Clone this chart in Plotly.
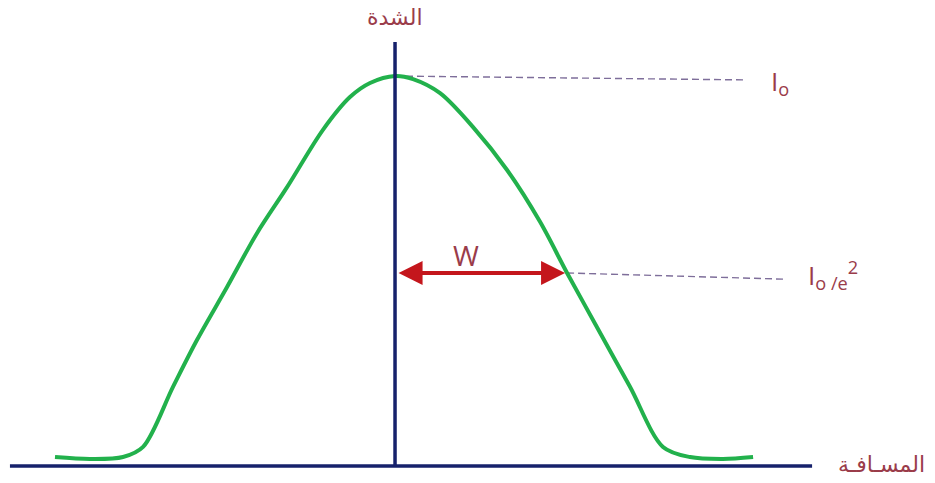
import plotly.graph_objects as go

# Beam intensity profile (distance in units of W, intensity in units of I0)
distance = [-2.0, -1.794, -1.6, -1.482, -1.306, -1.165, -0.988, -0.812, -0.635, -0.424, -0.265, -0.147,
            0.0, 0.106, 0.265, 0.459, 0.659, 0.853, 1.012, 1.188, 1.382, 1.576, 1.735, 1.929, 2.106]
intensity = [0.023, 0.018, 0.023, 0.049, 0.203, 0.323, 0.459, 0.597, 0.715, 0.862, 0.946, 0.982,
             1.0, 0.992, 0.956, 0.869, 0.759, 0.626, 0.495, 0.356, 0.203, 0.049, 0.023, 0.018, 0.023]

# Reference levels: peak intensity and the level where the width W is measured
peak_guide_x = [0.0, 2.06]
peak_guide_y = [1.0, 0.99]
width_level = 0.495
width_half = 1.0
width_guide_x = [1.012, 2.294]
width_guide_y = [0.495, 0.479]

# Axis extents
h_axis_x = [-2.265, 2.453]
h_axis_y = [0.0, 0.0]
v_axis_x = [0.0, 0.0]
v_axis_y = [0.0, 1.087]

label_color = "#9a3c4a"
navy = "#16216b"
guide_color = "#7e6e9a"

fig = go.Figure()

fig.add_trace(go.Scatter(x=peak_guide_x, y=peak_guide_y, mode="lines",
                         line=dict(color=guide_color, width=1.4, dash="7px,4px"), hoverinfo="skip"))
fig.add_trace(go.Scatter(x=width_guide_x, y=width_guide_y, mode="lines",
                         line=dict(color=guide_color, width=1.4, dash="7px,4px"), hoverinfo="skip"))

fig.add_trace(go.Scatter(x=distance, y=intensity, mode="lines",
                         line=dict(color="#22b14c", width=4, shape="spline", smoothing=0.9),
                         hoverinfo="skip"))

fig.add_trace(go.Scatter(x=h_axis_x, y=h_axis_y, mode="lines",
                         line=dict(color=navy, width=3.5), hoverinfo="skip"))
fig.add_trace(go.Scatter(x=v_axis_x, y=v_axis_y, mode="lines",
                         line=dict(color=navy, width=3.5), hoverinfo="skip"))

# Double-headed arrow for W
fig.add_annotation(x=width_half, y=width_level, ax=0.012, ay=width_level,
                   xref="x", yref="y", axref="x", ayref="y", text="",
                   showarrow=True, arrowhead=2, arrowside="end+start",
                   arrowsize=1.2, arrowwidth=4, arrowcolor="#c4161c", standoff=0, startstandoff=0)

latin = "Open Sans, Liberation Sans, sans-serif"
arabic = "DejaVu Sans, Noto Sans, sans-serif"

fig.add_annotation(x=0.418, y=0.54, xref="x", yref="y", text="W", showarrow=False,
                   font=dict(family=latin, size=28, color=label_color))
fig.add_annotation(x=2.2, y=0.985, xref="x", yref="y", text="I<sub>o</sub>", showarrow=False,
                   xanchor="left", font=dict(family=latin, size=26, color=label_color))
fig.add_annotation(x=2.42, y=0.49, xref="x", yref="y",
                   text="I<sub>o /e</sub><sup>2</sup>", showarrow=False,
                   xanchor="left", font=dict(family=latin, size=26, color=label_color))
fig.add_annotation(x=0.0, y=1.151, xref="x", yref="y", text="الشدة", showarrow=False,
                   font=dict(family=arabic, size=22, color=label_color))
fig.add_annotation(x=2.86, y=0.004, xref="x", yref="y", text="المسـافـة", showarrow=False,
                   font=dict(family=arabic, size=22, color=label_color))

fig.update_layout(
    width=935, height=483,
    margin=dict(l=0, r=0, t=0, b=0),
    paper_bgcolor="white", plot_bgcolor="white",
    showlegend=False,
    xaxis=dict(range=[-2.3235, 3.176], visible=False, fixedrange=True),
    yaxis=dict(range=[-0.0436, 1.1949], visible=False, fixedrange=True),
)

fig.write_html("out.html")
